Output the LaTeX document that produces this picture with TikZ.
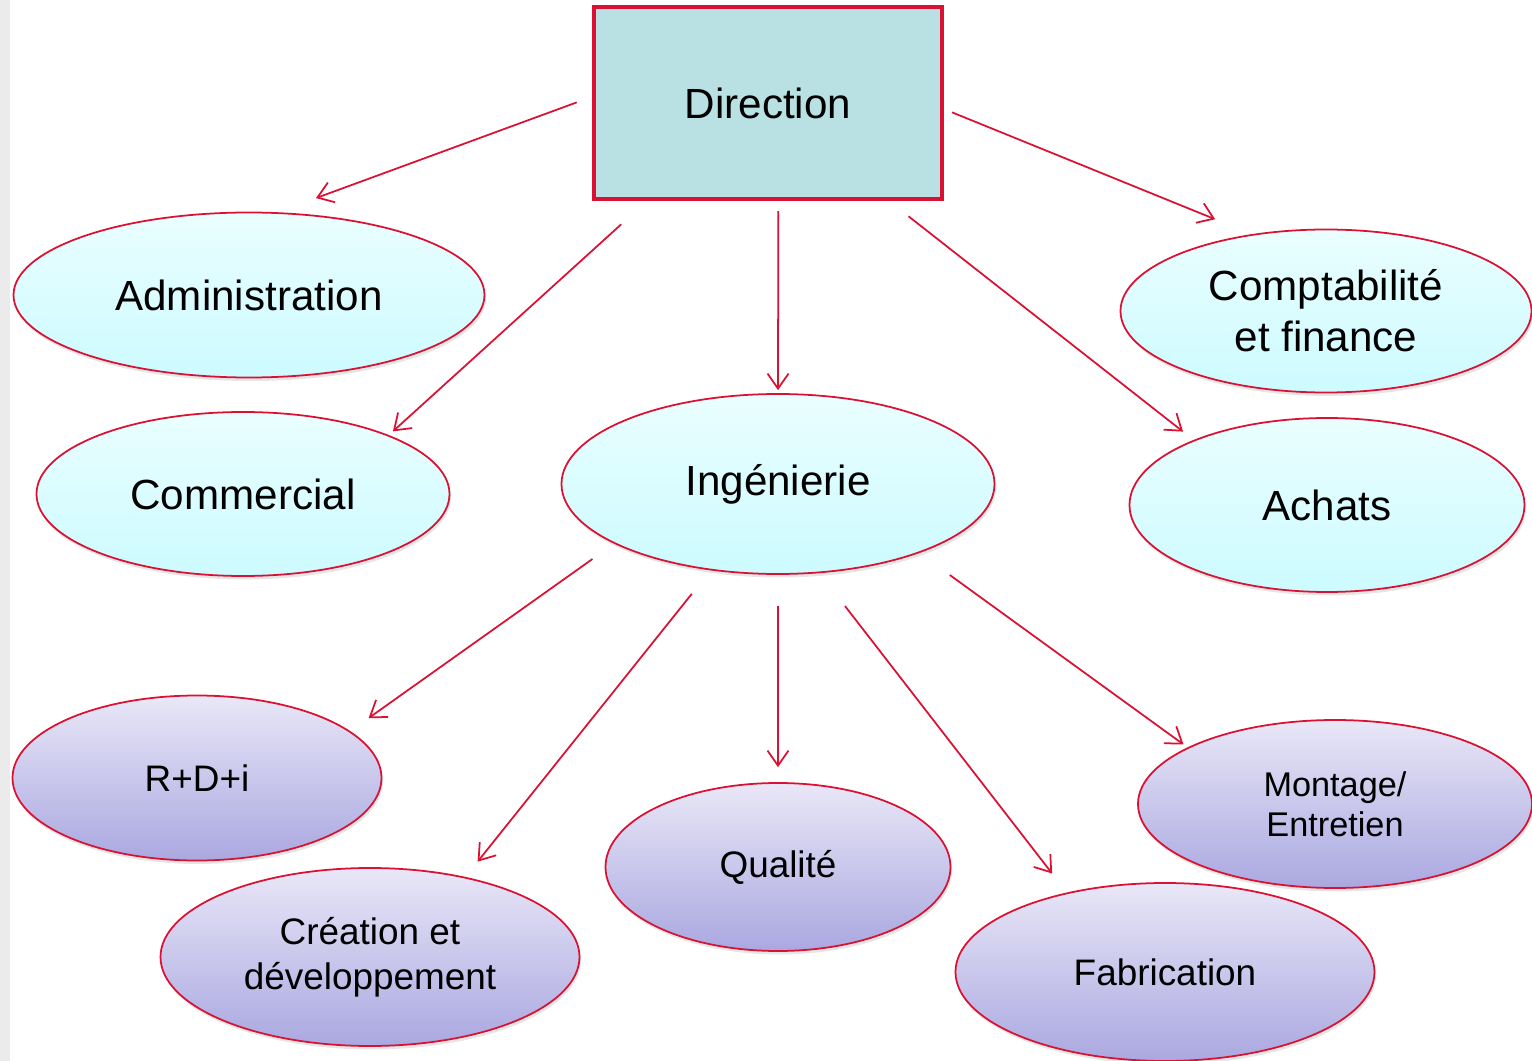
\documentclass[tikz,border=0pt]{standalone}
\usepackage{fontspec}
\setmainfont{Liberation Sans}
\usepackage{tikz}
\usetikzlibrary{shapes.geometric,arrows.meta,positioning,shadows}
\tikzset{every node/.append style={align=center}}
\definecolor{framered}{RGB}{218, 17, 50}
\definecolor{dircolor}{RGB}{185, 224, 226}
\definecolor{cyantop}{RGB}{234, 254, 255}
\definecolor{cyanbot}{RGB}{204, 251, 255}
\definecolor{violettop}{RGB}{233, 231, 247}
\definecolor{violetbot}{RGB}{170, 168, 224}
\definecolor{stripgray}{RGB}{235, 235, 235}

\begin{document}
\begin{tikzpicture}[
    on grid,
    head/.style={draw=framered, line width=2.5pt, fill=dircolor, minimum width=6.96cm, minimum height=3.84cm, font=\fontsize{24}{29}\selectfont},
    service/.style={ellipse, draw=framered, line width=1pt, inner sep=0pt, top color=cyantop, bottom color=cyanbot, drop shadow={shadow xshift=0.03cm, shadow yshift=-0.07cm, opacity=0.2}, font=\fontsize{24}{29}\selectfont},
    unit/.style={service, top color=violettop, bottom color=violetbot, font=\fontsize{21}{25.5}\selectfont},
    arrow/.style={-{Straight Barb[length=0.3cm, width=0.42cm]}, line width=1pt, framered}
]
    \useasboundingbox (0,0) rectangle (30.64,-21.22);
    \fill[stripgray] (0,0) rectangle (0.2,-21.22);

    % Nodes - top
    \node[head] (dir) at (15.36,-2.06) {Direction};
    \node[service, minimum width=9.42cm, minimum height=3.3cm, below left=3.84cm and 10.38cm of dir] (adm) {Administration};
    \node[service, minimum width=8.26cm, minimum height=3.28cm, below left=7.82cm and 10.5cm of dir] (com) {Commercial};
    \node[service, minimum width=8.66cm, minimum height=3.6cm, below right=7.62cm and 0.2cm of dir] (ing) {Ingénierie};
    \node[service, minimum width=8.22cm, minimum height=3.26cm, below right=4.16cm and 11.16cm of dir] (cpt) {Comptabilité\\et finance};
    \node[service, minimum width=7.9cm, minimum height=3.48cm, below right=8.04cm and 11.18cm of dir] (ach) {Achats};

    % Nodes - under Ingénierie
    \node[unit, minimum width=7.38cm, minimum height=3.3cm, below left=5.88cm and 11.62cm of ing] (rdi) {R+D+i};
    \node[unit, minimum width=8.38cm, minimum height=3.56cm, below left=9.46cm and 8.16cm of ing] (cre) {Création et\\développement};
    \node[unit, minimum width=6.9cm, minimum height=3.36cm, below=7.66cm of ing] (qua) {Qualité};
    \node[unit, minimum width=8.38cm, minimum height=3.56cm, below right=9.76cm and 7.74cm of ing] (fab) {Fabrication};
    \node[unit, minimum width=7.88cm, minimum height=3.36cm, below right=6.4cm and 11.14cm of ing, font=\fontsize{19.5}{23}\selectfont] (mon) {Montage/\\Entretien};

    % Arrows - from Direction
    \draw[arrow, shorten <=0.32cm, shorten >=0.82cm] (dir.178) -- (adm.71);
    \draw[arrow, shorten <=0.69cm, shorten >=0.11cm] (dir.219) -- (com.22);
    \draw[arrow, shorten <=0.2cm, shorten >=0.06cm] (dir.276) -- (ing.north);
    \draw[arrow, shorten <=0.17cm, shorten >=0.79cm] (dir.358) -- (cpt.134);
    \draw[arrow, shorten <=0.49cm, shorten >=0.27cm] (dir.321) -- (ach.154);

    % Arrows - from Ingénierie
    \draw[arrow, shorten <=0.53cm, shorten >=0.45cm] (ing.200) -- (rdi.17);
    \draw[arrow, shorten <=0.6cm, shorten >=0.39cm] (ing.232) -- (cre.40);
    \draw[arrow, shorten <=0.62cm, shorten >=0.3cm] (ing.south) -- (qua.north);
    \draw[arrow, shorten <=0.83cm, shorten >=0.48cm] (ing.295) -- (fab.141);
    \draw[arrow, shorten <=0.75cm, shorten >=0.1cm] (ing.334) -- (mon.159);
\end{tikzpicture}
\end{document}
